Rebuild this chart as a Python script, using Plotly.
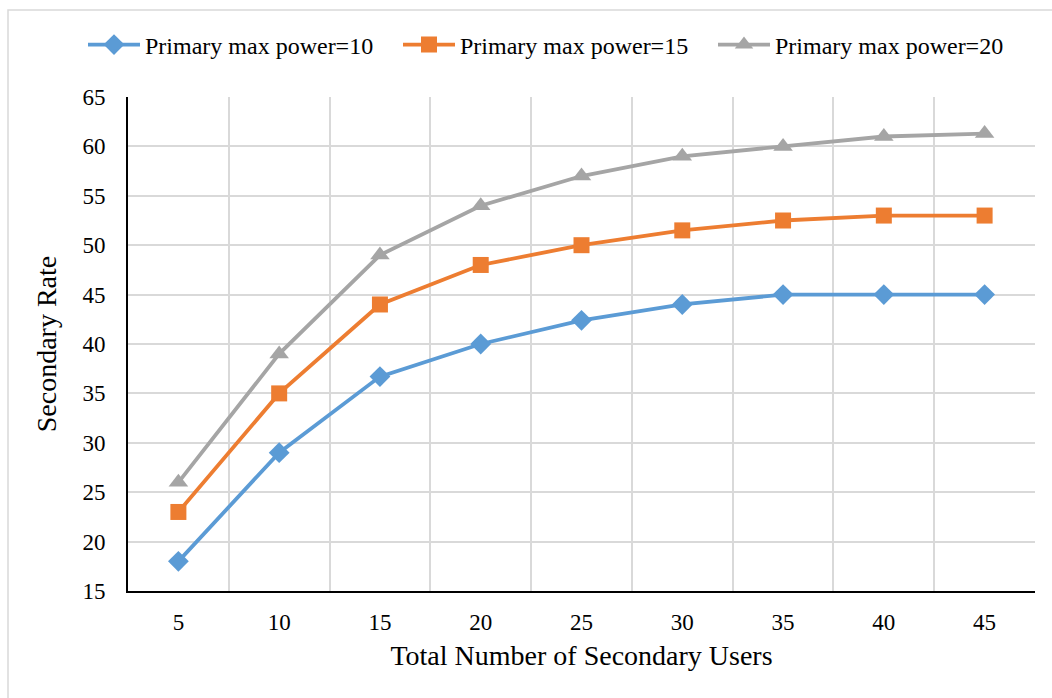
import plotly.graph_objects as go

users = ["5", "10", "15", "20", "25", "30", "35", "40", "45"]
power10 = [18, 29, 36.7, 40, 42.4, 44, 45, 45, 45]
power15 = [23, 35, 44, 48, 50, 51.5, 52.5, 53, 53]
power20 = [26, 39, 49, 54, 57, 59, 60, 61, 61.3]
series_names = ["Primary max power=10", "Primary max power=15", "Primary max power=20"]

W, H = 1052, 698
L, R, T, B = 128, 17, 97, 107

fig = go.Figure()
styles = [
    ("#5B9BD5", "diamond", 16),
    ("#ED7D31", "square", 16),
    ("#A5A5A5", "triangle-up", 17),
]
for name, vals, (col, sym, sz) in zip(series_names, [power10, power15, power20], styles):
    fig.add_trace(go.Scatter(
        x=users, y=vals, name=name, mode="lines+markers",
        line=dict(color=col, width=3.8),
        marker=dict(color=col, symbol=sym, size=sz, line=dict(width=0)),
    ))

pw = W - L - R
ph = H - T - B
# outer chart border
fig.add_shape(type="rect", xref="paper", yref="paper",
              x0=(8 - L) / pw, x1=(W + 5 - L) / pw,
              y0=-(H + 5 - T - ph) / ph, y1=(H - 10 - B) / ph,
              line=dict(color="#D9D9D9", width=1.5), fillcolor="rgba(0,0,0,0)", layer="below")

font = "Liberation Serif, Times New Roman, serif"
fig.update_layout(
    width=W, height=H,
    margin=dict(l=L, r=R, t=T, b=B, autoexpand=False),
    paper_bgcolor="white", plot_bgcolor="white",
    font=dict(family=font, color="black"),
    showlegend=True,
    legend=dict(orientation="h", x=(83 - L) / pw, xanchor="left", y=(H - 45 - B) / ph, yanchor="middle",
                font=dict(size=24, family=font), itemwidth=52, tracegroupgap=0,
                entrywidth=248, entrywidthmode="pixels",
                bgcolor="rgba(0,0,0,0)"),
    xaxis=dict(
        type="category", tickson="boundaries", showgrid=True, gridcolor="#D9D9D9", gridwidth=1.5,
        showline=True, linecolor="black", linewidth=2, ticks="",
        tickfont=dict(size=23, family=font), ticklabelstandoff=9,
        title=dict(text="Total Number of Secondary Users", font=dict(size=28, family=font), standoff=12),
        range=[-0.5, 8.5], zeroline=False, mirror=False,
    ),
    yaxis=dict(
        range=[15, 65], dtick=5, showgrid=True, gridcolor="#D9D9D9", gridwidth=1.5,
        showline=True, linecolor="black", linewidth=2, ticks="",
        tickfont=dict(size=23, family=font), ticklabelstandoff=16,
        title=dict(text="Secondary Rate", font=dict(size=28, family=font), standoff=18),
        zeroline=False,
    ),
)

fig.write_html("out.html")
